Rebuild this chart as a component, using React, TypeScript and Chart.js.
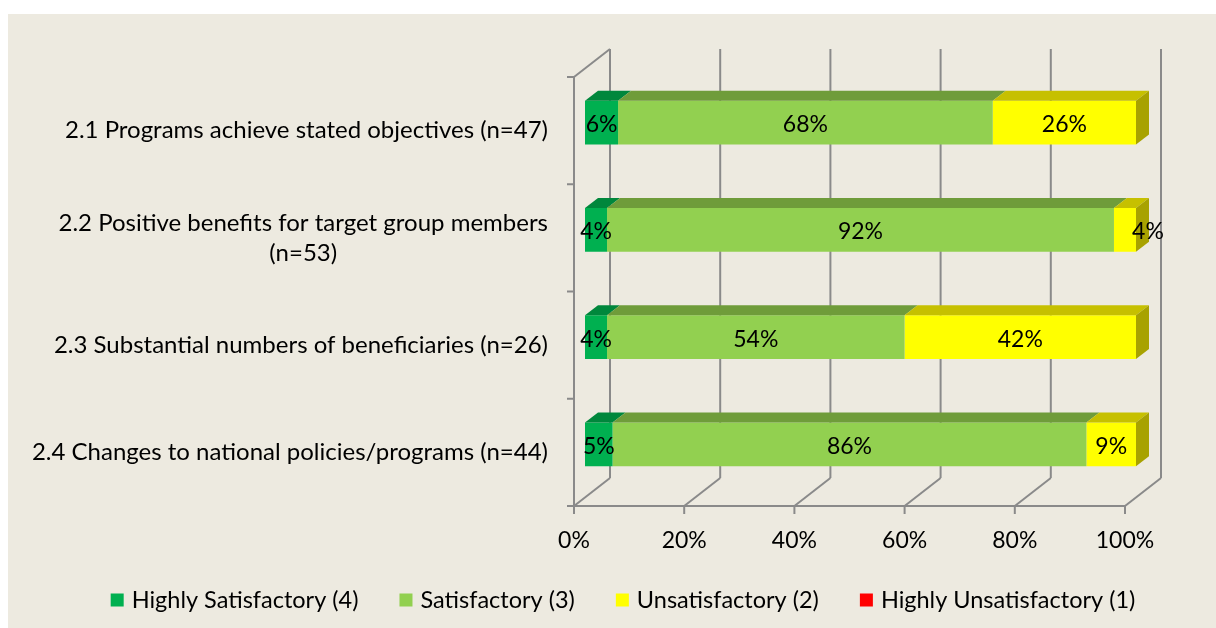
import React, { useEffect, useRef } from 'react';
import { Chart, registerables } from 'chart.js';

Chart.register(...registerables);

// ---- Data ----
const categories: string[][] = [
  ['2.1 Programs achieve stated objectives (n=47)'],
  ['2.2 Positive benefits for target group members', '(n=53)'],
  ['2.3 Substantial numbers of beneficiaries (n=26)'],
  ['2.4 Changes to national policies/programs (n=44)'],
];
const seriesNames = [
  'Highly Satisfactory (4)',
  'Satisfactory (3)',
  'Unsatisfactory (2)',
  'Highly Unsatisfactory (1)',
];
const highlySatisfactory = [6, 4, 4, 5];
const satisfactory = [68, 92, 54, 86];
const unsatisfactory = [26, 4, 42, 9];
const highlyUnsatisfactory = [0, 0, 0, 0];
const xTicks = [0, 20, 40, 60, 80, 100];

// ---- Styles ----
const FAMILY = 'Lato, "Open Sans", sans-serif';
const FONT = '23px ' + FAMILY;
const CAT_FONT = '24px ' + FAMILY;
const LEGEND_FONT = '23.5px ' + FAMILY;
const frontColors = ['#00B050', '#92D050', '#FFFF00', '#FF0000'];
const topColors = ['#00873C', '#6F9C3A', '#C6C000', '#C00000'];
const sideColors = ['#007530', '#5E8A30', '#A8A200', '#A00000'];
const GRID = '#8A8A8A';
// depth offsets relative to the bar front plane
const FX = -11, FY = 8; // floor / axis front plane
const BX = 25, BY = -20; // back wall
const TX = 13, TY = -10; // bar depth

const threeD = {
  id: 'threeD',
  beforeDatasetsDraw(chart: any) {
    const { ctx, chartArea: ca } = chart;
    const xs = chart.scales.x;
    const ys = chart.scales.y;
    ctx.save();
    ctx.strokeStyle = GRID;
    ctx.lineWidth = 2;
    ctx.lineCap = 'butt';
    const line = (x1: number, y1: number, x2: number, y2: number) => {
      ctx.beginPath();
      ctx.moveTo(x1, y1);
      ctx.lineTo(x2, y2);
      ctx.stroke();
    };
    const x0 = xs.getPixelForValue(xTicks[0]);
    const xN = xs.getPixelForValue(xTicks[xTicks.length - 1]);
    xTicks.forEach((v) => {
      const px = xs.getPixelForValue(v);
      line(px + BX, ca.top + BY, px + BX, ca.bottom + BY);
      line(px + FX, ca.bottom + FY, px + BX, ca.bottom + BY);
      line(px + FX, ca.bottom + FY, px + FX, ca.bottom + FY + 8);
    });
    line(x0 + FX - 7, ca.bottom + FY, xN + FX, ca.bottom + FY);
    line(x0 + FX, ca.top + FY, x0 + FX, ca.bottom + FY);
    line(x0 + FX, ca.top + FY, x0 + BX, ca.top + BY);
    const n = categories.length;
    const bounds: number[] = [ca.top];
    for (let i = 0; i < n - 1; i++) {
      bounds.push((ys.getPixelForValue(i) + ys.getPixelForValue(i + 1)) / 2);
    }
    bounds.push(ca.bottom);
    bounds.forEach((b) => line(x0 + FX - 7, b + FY, x0 + FX, b + FY));
    ctx.restore();
  },
  afterDatasetsDraw(chart: any) {
    const { ctx } = chart;
    const nCat = categories.length;
    const nDs = chart.data.datasets.length;
    ctx.save();
    for (let i = 0; i < nCat; i++) {
      let lastIdx = -1;
      for (let d = 0; d < nDs; d++) {
        if ((chart.data.datasets[d].data[i] as number) > 0) lastIdx = d;
      }
      for (let d = 0; d < nDs; d++) {
        const v = chart.data.datasets[d].data[i] as number;
        if (!(v > 0)) continue;
        const el: any = chart.getDatasetMeta(d).data[i];
        const x1 = Math.min(el.base, el.x);
        const x2 = Math.max(el.base, el.x);
        const top = el.y - el.height / 2;
        const bottom = el.y + el.height / 2;
        ctx.fillStyle = topColors[d];
        ctx.beginPath();
        ctx.moveTo(x1, top);
        ctx.lineTo(x2, top);
        ctx.lineTo(x2 + TX, top + TY);
        ctx.lineTo(x1 + TX, top + TY);
        ctx.closePath();
        ctx.fill();
        if (d === lastIdx) {
          ctx.fillStyle = sideColors[d];
          ctx.beginPath();
          ctx.moveTo(x2, top);
          ctx.lineTo(x2 + TX, top + TY);
          ctx.lineTo(x2 + TX, bottom + TY);
          ctx.lineTo(x2, bottom);
          ctx.closePath();
          ctx.fill();
        }
      }
      ctx.font = FONT;
      ctx.fillStyle = '#000';
      ctx.textBaseline = 'middle';
      ctx.textAlign = 'center';
      for (let d = 0; d < nDs; d++) {
        const v = chart.data.datasets[d].data[i] as number;
        if (!(v > 0)) continue;
        const el: any = chart.getDatasetMeta(d).data[i];
        const x1 = Math.min(el.base, el.x);
        const x2 = Math.max(el.base, el.x);
        const txt = v + '%';
        const w = ctx.measureText(txt).width;
        let cx = (x1 + x2) / 2;
        if (d === lastIdx && x2 - x1 < w) cx = x2 + 12;
        ctx.fillText(txt, cx, el.y + 2);
      }
    }
    ctx.restore();
  },
  afterDraw(chart: any) {
    const { ctx, chartArea: ca } = chart;
    const xs = chart.scales.x;
    const ys = chart.scales.y;
    ctx.save();
    ctx.font = FONT;
    ctx.fillStyle = '#000';
    ctx.textBaseline = 'middle';
    ctx.textAlign = 'center';
    xTicks.forEach((v) => {
      const px = xs.getPixelForValue(v);
      ctx.fillText(v + '%', px + FX, ca.bottom + FY + 35);
    });
    ctx.font = CAT_FONT;
    const x0 = xs.getPixelForValue(0);
    const right = x0 + FX - 26;
    const lh = 30;
    categories.forEach((lines, i) => {
      const cy = ys.getPixelForValue(i) + FY;
      const widths = lines.map((l) => ctx.measureText(l).width);
      const maxW = Math.max(...widths);
      const center = right - maxW / 2;
      lines.forEach((l, k) => {
        const y = cy + (k - (lines.length - 1) / 2) * lh;
        ctx.textAlign = 'center';
        ctx.fillText(l, center, y);
      });
    });
    ctx.font = LEGEND_FONT;
    const box = 13, gap = 8, itemGap = 41;
    const widths = seriesNames.map((s) => ctx.measureText(s).width);
    const total = widths.reduce((a, b) => a + b, 0) + seriesNames.length * (box + gap) + (seriesNames.length - 1) * itemGap;
    let x = 615 - total / 2;
    const ly = 586;
    ctx.textAlign = 'left';
    seriesNames.forEach((s, k) => {
      ctx.fillStyle = frontColors[k];
      ctx.fillRect(x, ly - box / 2, box, box);
      ctx.fillStyle = '#000';
      ctx.fillText(s, x + box + gap, ly);
      x += box + gap + widths[k] + itemGap;
    });
    ctx.restore();
  },
};

export default function App() {
  const ref = useRef<HTMLCanvasElement | null>(null);
  useEffect(() => {
    if (!ref.current) return;
    const seriesData = [highlySatisfactory, satisfactory, unsatisfactory, highlyUnsatisfactory];
    const chart = new Chart(ref.current, {
      type: 'bar',
      data: {
        labels: categories,
        datasets: seriesNames.map((name, k) => ({
          label: name,
          data: seriesData[k],
          backgroundColor: frontColors[k],
          borderWidth: 0,
          categoryPercentage: 1,
          barPercentage: 0.41,
        })),
      },
      options: {
        indexAxis: 'y',
        responsive: false,
        animation: false,
        layout: { padding: { left: 577, right: 80, top: 55, bottom: 130 } },
        scales: {
          x: { stacked: true, min: 0, max: 100, display: false },
          y: { stacked: true, display: false },
        },
        plugins: { legend: { display: false }, tooltip: { enabled: false } },
      },
      plugins: [threeD],
    } as any);
    return () => chart.destroy();
  }, []);
  return (
    <div
      style={{
        position: 'absolute',
        left: 8,
        top: 14,
        width: 1208,
        height: 614,
        background: '#EDEAE0',
      }}
    >
      <canvas ref={ref} width={1208} height={614} style={{ display: 'block' }} />
    </div>
  );
}
